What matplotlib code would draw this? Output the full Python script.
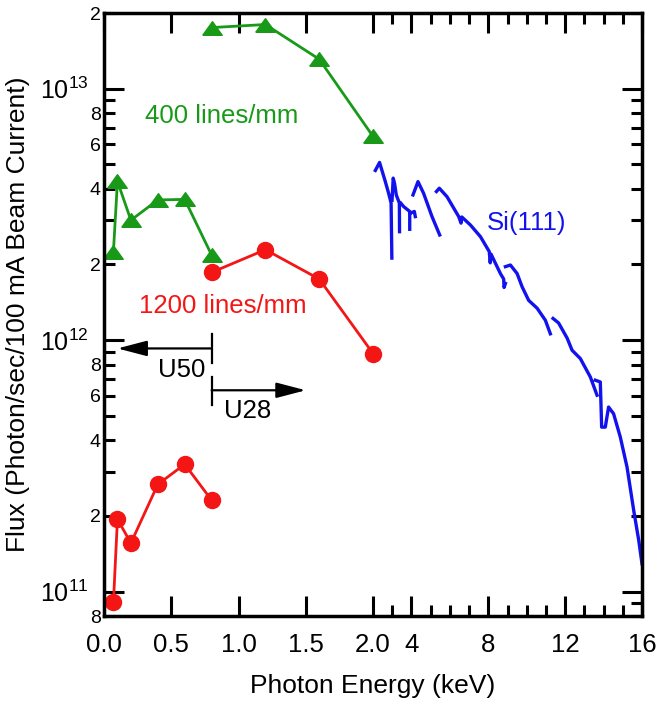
import numpy as np
import matplotlib
matplotlib.use('Agg')
import matplotlib.pyplot as plt
from matplotlib.ticker import FixedLocator, FuncFormatter

plt.rcParams['font.family'] = 'Liberation Sans'
plt.rcParams['mathtext.fontset'] = 'custom'
plt.rcParams['mathtext.rm'] = 'Liberation Sans'
plt.rcParams['mathtext.it'] = 'Liberation Sans:italic'

nan = np.nan

# grating monochromator, undulator U50 (low energies) and U28
energy_u50 = [0.07, 0.1, 0.2, 0.4, 0.6, 0.8]
flux_400_u50 = [2.25e12, 4.28e12, 3.0e12, 3.61e12, 3.63e12, 2.18e12]
flux_1200_u50 = [9.06e10, 1.94e11, 1.56e11, 2.67e11, 3.21e11, 2.31e11]
energy_u28 = [0.8, 1.2, 1.6, 2.0]
flux_400_u28 = [1.75e13, 1.80e13, 1.31e13, 6.46e12]
flux_1200_u28 = [1.86e12, 2.29e12, 1.75e12, 8.85e11]

# Si(111) crystal monochromator, one piece per harmonic (nan = break)
si_energy = [2.12, 2.34, 2.64, 2.81, 2.94, 2.98, nan,
             2.99, 3.05, 3.12, 3.21, 3.37, 3.38, nan,
             3.44, 3.59, 3.91, 3.91, nan,
             3.95, 4.15, 4.20, nan,
             4.08, 4.34, 4.63, 5.07, 5.47, nan,
             5.30, 5.45, 5.85, 6.20, 6.46, 6.58, 6.62, 7.07, 7.59, 8.05,
             8.10, 8.14, 8.63, 8.80, 8.82, 8.89, nan,
             8.89, 9.15, 9.50, 9.76, 10.10, 10.54, 10.97, 11.23, nan,
             11.37, 11.66, 12.10, 12.36, 12.79, 13.31, 13.66, nan,
             13.57, 13.83, 13.90, 14.09, 14.26, 14.52, 14.87, 15.22, 15.57,
             15.83, 16.0]
si_flux = [4.73e12, 5.09e12, 4.27e12, 3.84e12, 3.51e12, 2.12e12, nan,
           3.6e12, 4.41e12, 4.2e12, 3.78e12, 3.51e12, 2.70e12, nan,
           3.51e12, 3.40e12, 3.25e12, 2.76e12, nan,
           3.2e12, 3.25e12, 3.1e12, nan,
           3.78e12, 4.27e12, 3.84e12, 3.10e12, 2.62e12, nan,
           3.90e12, 4.02e12, 3.72e12, 3.35e12, 3.10e12, 2.92e12, 3.09e12,
           2.87e12, 2.58e12, 2.25e12, 2.03e12, 2.2e12, 1.84e12, 1.75e12,
           1.62e12, 1.68e12, nan,
           1.96e12, 1.99e12, 1.84e12, 1.63e12, 1.44e12, 1.34e12, 1.20e12,
           1.06e12, nan,
           1.22e12, 1.17e12, 1.02e12, 9.12e11, 8.45e11, 7.14e11, 6.04e11, nan,
           6.93e11, 6.82e11, 4.51e11, 4.51e11, 5.42e11, 5.10e11, 4.12e11,
           3.13e11, 2.10e11, 1.60e11, 1.29e11]

# undulator ranges: (bar energy, arrow tip, arrow flux, bar top, bar bottom)
u50_range = (0.8, 0.1, 9.27e11, 1.06e12, 8.09e11)
u28_range = (0.8, 1.5, 6.32e11, 7.13e11, 5.51e11)

x_major = [0, 0.5, 1, 1.5, 2, 4, 8, 12, 16]
x_major_labels = ['0.0', '0.5', '1.0', '1.5', '2.0', '4', '8', '12', '16']
x_minor = [3, 5, 6, 7, 9, 10, 11, 13, 14, 15]

green = '#189a18'
red = '#f41515'
blue = '#1212ee'

# energy axis is broken at 2 keV: above it the scale is squeezed
x_break = 2.0
squeeze = 19.21 / 134.5


def forward(e):
    e = np.asarray(e, dtype=float)
    return np.where(e <= x_break, e, x_break + (e - x_break) * squeeze)


def inverse(u):
    u = np.asarray(u, dtype=float)
    return np.where(u <= x_break, u, x_break + (u - x_break) / squeeze)


def minor_label(v, pos):
    m = int(round(v / 10 ** np.floor(np.log10(v) + 1e-9)))
    return str(m) if m in (2, 4, 6, 8) else ''


def main():
    fig = plt.figure(figsize=(6.61, 7.04), dpi=100)
    ax = fig.add_axes([104 / 661, 1 - 616 / 704, 538 / 661, 603 / 704])

    ax.set_xscale('function', functions=(forward, inverse))
    ax.set_yscale('log')
    ax.set_xlim(0, 16)
    ax.set_ylim(8e10, 2e13)

    tri = [(-1, -0.7), (1, -0.7), (0, 0.7), (-1, -0.7)]
    green_style = dict(color=green, lw=2, marker=tri, ms=14, clip_on=False)
    red_style = dict(color=red, lw=2, marker='o', ms=11.5, clip_on=False)
    ax.plot(energy_u50, flux_400_u50, **green_style)
    ax.plot(energy_u28, flux_400_u28, **green_style)
    ax.plot(energy_u50, flux_1200_u50, **red_style)
    ax.plot(energy_u28, flux_1200_u28, **red_style)
    ax.plot(si_energy, si_flux, color=blue, lw=2.4)

    for bar_e, tip_e, y, top, bottom in (u50_range, u28_range):
        ax.plot([bar_e, bar_e], [top, bottom], color='k', lw=1.6)
        ax.annotate('', xy=(tip_e, y), xytext=(bar_e, y),
                    arrowprops=dict(arrowstyle='-|>,head_length=1.8,head_width=0.47',
                                    color='k', lw=1.6, shrinkA=0, shrinkB=0,
                                    mutation_scale=10))

    fs = 18.5
    ax.text(0.305, 7.3e12, '400 lines/mm', color=green, fontsize=fs)
    ax.text(0.26, 1.28e12, '1200 lines/mm', color=red, fontsize=fs)
    ax.text(7.9, 2.74e12, 'Si(111)', color=blue, fontsize=fs)
    ax.text(0.40, 7.13e11, 'U50', fontsize=fs)
    ax.text(0.89, 4.89e11, 'U28', fontsize=fs)

    # ticks
    ax.xaxis.set_major_locator(FixedLocator(x_major))
    ax.xaxis.set_minor_locator(FixedLocator(x_minor))
    ax.set_xticklabels(x_major_labels)
    y_minor = [m * 10.0 ** d for d in (10, 11, 12, 13) for m in range(2, 10)]
    y_minor = [v for v in y_minor if 7.99e10 <= v <= 2.01e13]
    ax.yaxis.set_major_locator(FixedLocator([1e11, 1e12, 1e13]))
    ax.yaxis.set_minor_locator(FixedLocator(y_minor))
    ax.yaxis.set_major_formatter(
        FuncFormatter(lambda v, p: '$10^{%d}$' % round(np.log10(v))))
    ax.yaxis.set_minor_formatter(FuncFormatter(minor_label))

    ax.tick_params(which='both', direction='in', top=True, right=True,
                   width=2.2)
    ax.tick_params(which='major', length=14.4)
    ax.tick_params(which='minor', length=8)
    ax.tick_params(axis='x', which='major', labelsize=18.5, pad=12)
    ax.tick_params(axis='y', which='major', labelsize=18, pad=11)
    ax.tick_params(axis='y', which='minor', labelsize=14, pad=2.5)
    for sp in ax.spines.values():
        sp.set_linewidth(2.5)

    ax.set_xlabel('Photon Energy (keV)', fontsize=19)
    ax.set_ylabel('Flux (Photon/sec/100 mA Beam Current)', fontsize=19)
    ax.xaxis.set_label_coords(0.5, -0.096)
    ax.yaxis.set_label_coords(-0.1375, 0.5)

    fig.savefig('out.png', dpi=100)


if __name__ == '__main__':
    main()
